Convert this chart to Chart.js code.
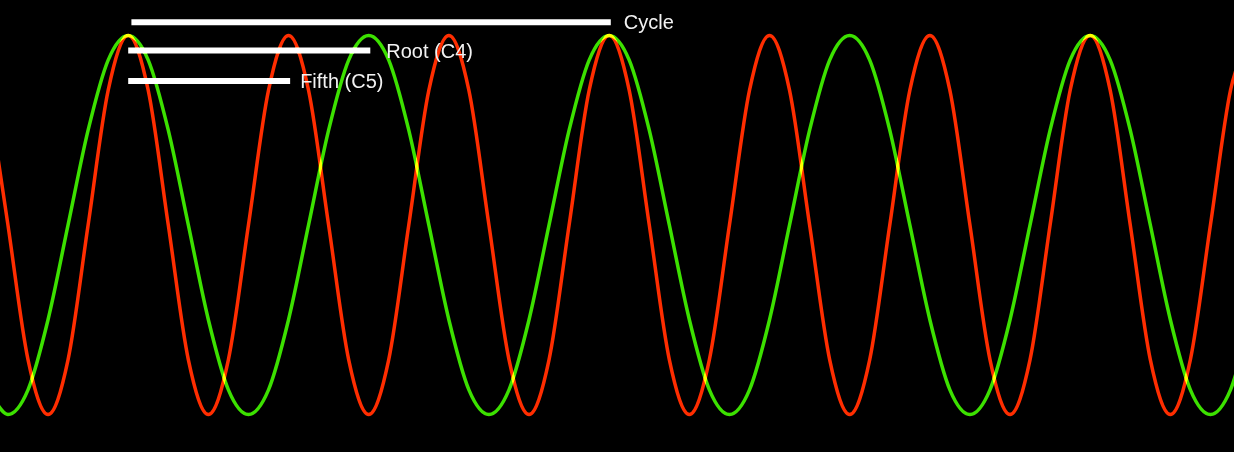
<!DOCTYPE html>
<html>
<head>
<meta charset="utf-8">
<title>Root and fifth</title>
<script src="https://cdn.jsdelivr.net/npm/chart.js@4/dist/chart.umd.min.js"></script>
<style>
  html, body { margin: 0; padding: 0; background: #000; overflow: hidden; }
  canvas { display: block; }
</style>
</head>
<body>
<canvas id="chart" width="1234" height="452"></canvas>
<script>
// x is measured in periods of the fifth, 0 = first common peak
// samples every 1/8 of a fifth period, starting at -0.875
const firstSample = -0.875
const sampleStep = 0.125

// Root (C4)
const rootValues = [
  -0.87, -1, -0.87, -0.5, 0, 0.5, 0.87, 1, 0.87, 0.5, 0, -0.5,
  -0.87, -1, -0.87, -0.5, 0, 0.5, 0.87, 1, 0.87, 0.5, 0, -0.5,
  -0.87, -1, -0.87, -0.5, 0, 0.5, 0.87, 1, 0.87, 0.5, 0, -0.5,
  -0.87, -1, -0.87, -0.5, 0, 0.5, 0.87, 1, 0.87, 0.5, 0, -0.5,
  -0.87, -1, -0.87, -0.5, 0, 0.5, 0.87, 1, 0.87, 0.5, 0, -0.5,
  -0.87, -1, -0.87, -0.5
]

// Fifth (C5)
const fifthValues = [
  0.71, 0, -0.71, -1, -0.71, 0, 0.71, 1,
  0.71, 0, -0.71, -1, -0.71, 0, 0.71, 1,
  0.71, 0, -0.71, -1, -0.71, 0, 0.71, 1,
  0.71, 0, -0.71, -1, -0.71, 0, 0.71, 1,
  0.71, 0, -0.71, -1, -0.71, 0, 0.71, 1,
  0.71, 0, -0.71, -1, -0.71, 0, 0.71, 1,
  0.71, 0, -0.71, -1, -0.71, 0, 0.71, 1,
  0.71, 0, -0.71, -1, -0.71, 0, 0.71, 1
]

// period markers: label, start, end, level
const markerLabels = ['Cycle', 'Root (C4)', 'Fifth (C5)']
const markerStarts = [0.02, 0, 0]
const markerEnds = [3.01, 1.51, 1.01]
const markerLevels = [1.07, 0.92, 0.76]

function toPoints(values) {
  return values.map((v, i) => ({ x: firstSample + i * sampleStep, y: v }))
}

const waveStyle = {
  borderWidth: 3.5,
  pointRadius: 0,
  fill: false,
  cubicInterpolationMode: 'monotone'
}

const datasets = [
  Object.assign({ data: toPoints(rootValues), borderColor: 'rgb(60, 225, 0)' }, waveStyle),
  Object.assign({ data: toPoints(fifthValues), borderColor: 'rgb(255, 45, 0)' }, waveStyle)
]

markerLabels.forEach((label, i) => {
  datasets.push({
    label: label,
    data: [
      { x: markerStarts[i], y: markerLevels[i] },
      { x: markerEnds[i], y: markerLevels[i] }
    ],
    borderColor: '#ffffff',
    borderWidth: 6,
    borderCapStyle: 'butt',
    pointRadius: 0,
    tension: 0,
    fill: false
  })
})

// red + green add up to yellow where the curves meet
const additiveLines = {
  id: 'additiveLines',
  beforeDatasetsDraw(chart) {
    chart.ctx.save()
    chart.ctx.globalCompositeOperation = 'lighter'
  },
  afterDatasetsDraw(chart) {
    chart.ctx.restore()
  }
}

const labelGaps = [13, 16, 10]

const markerText = {
  id: 'markerText',
  afterDraw(chart) {
    const { ctx, scales } = chart
    ctx.save()
    ctx.fillStyle = '#f2f2f2'
    ctx.font = '20px "Liberation Sans", Arial, sans-serif'
    ctx.textAlign = 'left'
    ctx.textBaseline = 'middle'
    markerLabels.forEach((label, i) => {
      const x = scales.x.getPixelForValue(markerEnds[i]) + labelGaps[i]
      const y = scales.y.getPixelForValue(markerLevels[i]) + 1.5
      ctx.fillText(label, x, y)
    })
    ctx.restore()
  }
}

new Chart(document.getElementById('chart'), {
  type: 'line',
  data: { datasets },
  options: {
    responsive: false,
    animation: false,
    layout: { padding: 0 },
    plugins: {
      legend: { display: false },
      tooltip: { enabled: false }
    },
    scales: {
      x: { type: 'linear', display: false, min: -0.7996, max: 6.897 },
      y: { type: 'linear', display: false, min: -1.198, max: 1.187 }
    }
  },
  plugins: [additiveLines, markerText]
})
</script>
</body>
</html>
